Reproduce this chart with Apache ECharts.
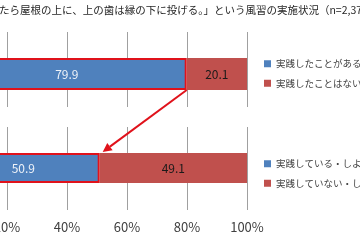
<!DOCTYPE html>
<html><head><meta charset="utf-8">
<script src="https://cdn.jsdelivr.net/npm/echarts@6/dist/echarts.min.js"></script>
<style>html,body{margin:0;padding:0;background:#fff;overflow:hidden}
#wrap{width:360px;height:240px;overflow:hidden;position:relative}
#c{width:413px;height:240px;position:absolute;left:-53px;top:0}</style>
</head><body><div id="wrap"><div id="c"></div></div>
<script>
const titleText = 'たら屋根の上に、上の歯は縁の下に投げる。」という風習の実施状況（n=2,372）';
const tickValues = [0, 20, 40, 60, 80, 100];
const topNames = ['実践したことがある', '実践したことはない'];
const topValues = [79.9, 20.1];
const bottomNames = ['実践している・しようと思う', '実践していない・しようと思わない'];
const bottomValues = [50.9, 49.1];

const BLUE = '#4f81bd', RED = '#c0504d', HL = '#e0121b';
const FONT = '"Noto Sans CJK JP", "Noto Sans", sans-serif';
const OFF = 53; // page x = chart x - OFF
const L = 0, W = 300;
const G = [
  {left: L, width: W, top: 32, height: 75},
  {left: L, width: W, top: 58, height: 32},
  {left: L, width: W, top: 127, height: 83},
  {left: L, width: W, top: 153, height: 30}
].map(g => Object.assign(g, {containLabel: false, outerBoundsMode: 'none'}));
const chart = echarts.init(document.getElementById('c'), null, {renderer: 'canvas'});
function xAx(i, showSplit, showLabel) {
  return {gridIndex: i, type: 'value', min: tickValues[0], max: tickValues[tickValues.length-1],
    interval: tickValues[1]-tickValues[0],
    axisLine: {show: false}, axisTick: {show: false},
    splitLine: {show: showSplit, lineStyle: {color: '#a0a0a0', width: 1}},
    axisLabel: {show: showLabel, formatter: '{value}%', color: '#404040', fontSize: 13, margin: 11, fontFamily: FONT,
      showMinLabel: true, showMaxLabel: true}};
}
function yAx(i) {
  return {gridIndex: i, type: 'category', data: [''], show: false};
}
function lab(color) {
  return {show: true, position: 'inside', color: color, fontSize: 12, fontFamily: FONT, formatter: p => p.value.toFixed(1)};
}
const legTxt = {fontSize: 9.5, color: '#404040', fontFamily: FONT};
chart.setOption({
  animation: false,
  grid: G,
  xAxis: [xAx(0, true, false), xAx(1, false, false), xAx(2, true, true), xAx(3, false, false)],
  yAxis: [yAx(0), yAx(1), yAx(2), yAx(3)],
  legend: [
    {data: topNames, orient: 'vertical', left: 264 + OFF, top: 59, padding: 0, itemWidth: 7, itemHeight: 7, itemGap: 10,
     icon: 'rect', itemStyle: {borderWidth: 0}, textStyle: legTxt},
    {data: bottomNames, orient: 'vertical', left: 264 + OFF, top: 159, padding: 0, itemWidth: 7, itemHeight: 7, itemGap: 10,
     icon: 'rect', itemStyle: {borderWidth: 0}, textStyle: legTxt}
  ],
  series: [
    {name: topNames[0], type: 'bar', xAxisIndex: 1, yAxisIndex: 1, stack: 'a', barWidth: '100%',
     data: [topValues[0]], itemStyle: {color: BLUE, borderColor: HL, borderWidth: 2}, label: lab('#eef2f8')},
    {name: topNames[1], type: 'bar', xAxisIndex: 1, yAxisIndex: 1, stack: 'a', barWidth: '100%',
     data: [topValues[1]], itemStyle: {color: RED}, label: lab('#1a1a1a')},
    {name: bottomNames[0], type: 'bar', xAxisIndex: 3, yAxisIndex: 3, stack: 'b', barWidth: '100%',
     data: [bottomValues[0]], itemStyle: {color: BLUE, borderColor: HL, borderWidth: 2}, label: lab('#eef2f8')},
    {name: bottomNames[1], type: 'bar', xAxisIndex: 3, yAxisIndex: 3, stack: 'b', barWidth: '100%',
     data: [bottomValues[1]], itemStyle: {color: RED}, label: lab('#1a1a1a')}
  ]
});
const x1 = chart.convertToPixel({xAxisIndex: 1}, topValues[0]);
const x2 = chart.convertToPixel({xAxisIndex: 3}, bottomValues[0]);
const sx = x1, sy = G[1].top + G[1].height;
const ex = x2 + 3, ey = G[3].top - 1;
const dx = ex - sx, dy = ey - sy, len = Math.hypot(dx, dy), ux = dx/len, uy = dy/len;
const ah = 9, aw = 4.5;
const bx = ex - ux*ah, by = ey - uy*ah;
chart.setOption({
  graphic: [
    {type: 'text', left: OFF - 1, top: 5, style: {text: titleText, fontSize: 10.5, fill: '#262626', fontFamily: FONT}},
    {type: 'line', shape: {x1: sx, y1: sy, x2: bx, y2: by}, style: {stroke: HL, lineWidth: 2}},
    {type: 'polygon', shape: {points: [[ex, ey], [bx - uy*aw, by + ux*aw], [bx + uy*aw, by - ux*aw]]}, style: {fill: HL}}
  ]
});
</script></body></html>
